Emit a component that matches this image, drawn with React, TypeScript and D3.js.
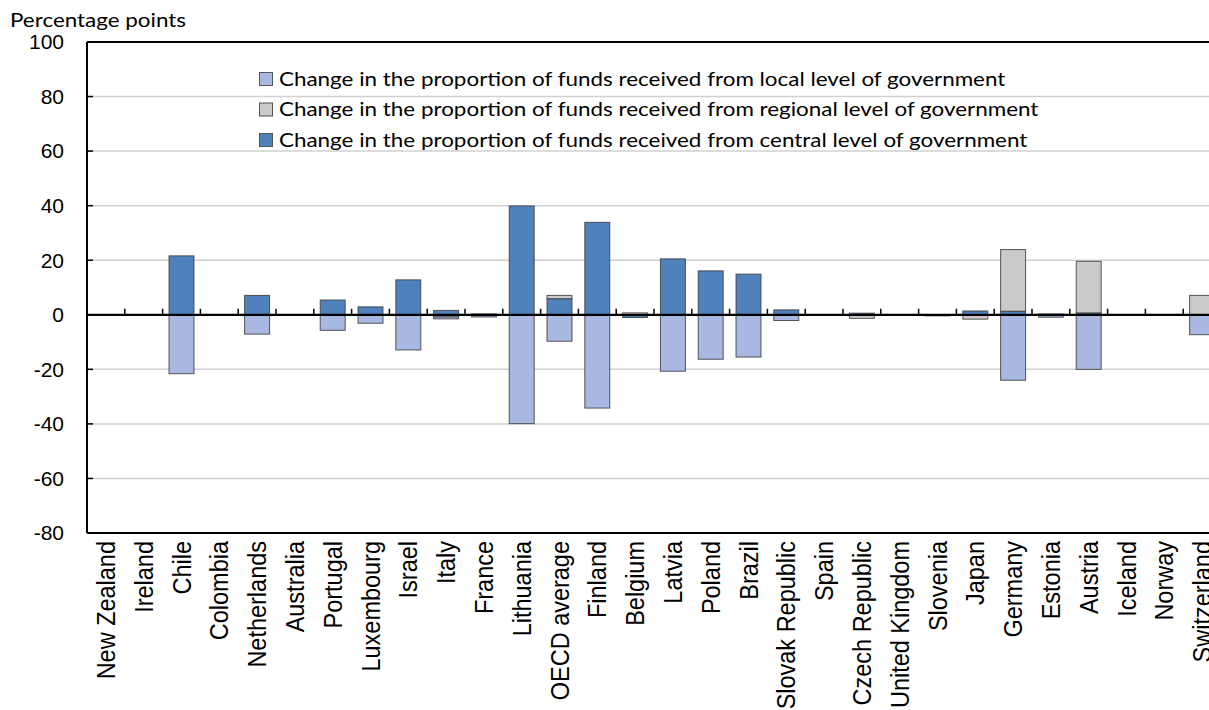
import { scaleBand, scaleLinear, stack, stackOffsetDiverging } from "d3";

const categories = [
  "New Zealand", "Ireland", "Chile", "Colombia", "Netherlands", "Australia", "Portugal",
  "Luxembourg", "Israel", "Italy", "France", "Lithuania", "OECD average", "Finland",
  "Belgium", "Latvia", "Poland", "Brazil", "Slovak Republic", "Spain", "Czech Republic",
  "United Kingdom", "Slovenia", "Japan", "Germany", "Estonia", "Austria", "Iceland",
  "Norway", "Switzerland",
];

// change in proportion of funds, percentage points
const central = [0, 0, 21.6, 0, 7.1, 0, 5.4, 2.9, 12.8, 1.6, 0.3, 39.9, 5.9, 33.9, -1.0, 20.5, 16.1, 14.9, 1.8, 0, 0.6, 0, 0, 1.4, 1.3, 0.3, 0.7, 0, 0, 0];
const regional = [0, 0, 0, 0, 0, 0, 0, 0, 0, -0.8, 0, 0, 1.2, 0, 0.7, 0, 0, 0, 0, 0, -1.3, 0, -0.4, -1.6, 22.6, 0, 18.9, 0, 0, 7.1];
const local = [0, 0, -21.6, 0, -7.1, 0, -5.7, -3.1, -12.9, -0.7, -0.8, -39.9, -9.7, -34.2, 0, -20.7, -16.3, -15.5, -2.1, 0, 0, 0, 0, 0, -24.0, -0.9, -20.0, 0, 0, -7.3];

const yTicks = [-80, -60, -40, -20, 0, 20, 40, 60, 80, 100];

const legendItems = [
  { key: "local", label: "Change in the proportion of funds received from local level of government" },
  { key: "regional", label: "Change in the proportion of funds received from regional level of government" },
  { key: "central", label: "Change in the proportion of funds received from central level of government" },
];

const colors: Record<string, string> = {
  local: "#a8b8e3",
  regional: "#cacaca",
  central: "#4f81bd",
};

const W = 1209;
const H = 710;
const left = 87;
const step = 37.8;
const stretch = 1.15; // glyphs in the original look horizontally widened

export default function App() {
  const x = scaleBand<string>()
    .domain(categories)
    .range([left, left + step * categories.length])
    .paddingInner(0.34)
    .paddingOuter(0.17);
  const y = scaleLinear().domain([-80, 100]).range([533, 42]);

  const rows = categories.map((c, i) => ({
    name: c,
    central: central[i],
    regional: regional[i],
    local: local[i],
  }));
  const series = stack<any>()
    .keys(["central", "regional", "local"])
    .offset(stackOffsetDiverging)(rows);

  const right = left + step * categories.length;
  const y0 = y(0);

  return (
    <svg width={W} height={H} style={{ position: "fixed", left: 0, top: 0, background: "#fff" }}>
      <rect x={0} y={0} width={W} height={H} fill="#fff" />
      <text transform={`translate(10,27) scale(${stretch},1)`} fontFamily="Lato" fontSize={19.5} fill="#000">
        Percentage points
      </text>

      {/* gridlines */}
      {yTicks.filter((t) => t !== 0 && t !== 100 && t !== -80).map((t) => (
        <line key={t} x1={left} x2={right} y1={y(t)} y2={y(t)} stroke="#d0d0d0" strokeWidth={1.5} />
      ))}

      {/* y tick labels */}
      {yTicks.map((t) => (
        <g key={"t" + t}>
          <line x1={left} x2={left + 6} y1={y(t)} y2={y(t)} stroke="#000" strokeWidth={1.5} />
          <text x={64} y={y(t)} dy="0.35em" textAnchor="end" fontFamily="Liberation Sans" fontSize={21} fill="#000">
            {t}
          </text>
        </g>
      ))}

      {/* category ticks on zero line */}
      {categories.map((c, i) => (
        <line key={"ct" + c} x1={left + step * (i + 1)} x2={left + step * (i + 1)} y1={y0 - 6} y2={y0} stroke="#000" strokeWidth={1.5} />
      ))}

      {/* bars */}
      {series.map((s) => (
        <g key={s.key} fill={colors[s.key]}>
          {s.map((d, i) => {
            const h = Math.abs(y(d[0]) - y(d[1]));
            if (h < 0.01) return null;
            return (
              <rect
                key={i}
                x={x(categories[i])}
                width={x.bandwidth()}
                y={Math.min(y(d[0]), y(d[1]))}
                height={h}
                stroke="#3c3c3c"
                strokeOpacity={0.85}
                strokeWidth={1}
              />
            );
          })}
        </g>
      ))}

      {/* zero line */}
      <line x1={left} x2={right} y1={y0} y2={y0} stroke="#000" strokeWidth={2.2} />

      {/* frame */}
      <line x1={left} x2={right} y1={y(100)} y2={y(100)} stroke="#000" strokeWidth={2} />
      <line x1={left} x2={right} y1={y(-80)} y2={y(-80)} stroke="#000" strokeWidth={2} />
      <line x1={left} x2={left} y1={y(100)} y2={y(-80)} stroke="#000" strokeWidth={2} />

      {/* category labels */}
      {categories.map((c) => (
        <text
          key={"l" + c}
          transform={`translate(${(x(c) ?? 0) + x.bandwidth() / 2},541) rotate(-90) scale(1,1.08)`}
          dy="0.36em"
          textAnchor="end"
          fontFamily="Liberation Sans"
          fontSize={23.5}
          fill="#000"
        >
          {c}
        </text>
      ))}

      {/* legend */}
      {legendItems.map((it, i) => (
        <g key={it.key} transform={`translate(259,${72 + i * 30.5})`}>
          <rect x={0.5} y={0.5} width={13} height={13} fill={colors[it.key]} stroke="#555" strokeWidth={1} />
          <text transform={`translate(20,13.5) scale(${stretch},1)`} fontFamily="Lato" fontSize={19.5} fill="#000">
            {it.label}
          </text>
        </g>
      ))}
    </svg>
  );
}
